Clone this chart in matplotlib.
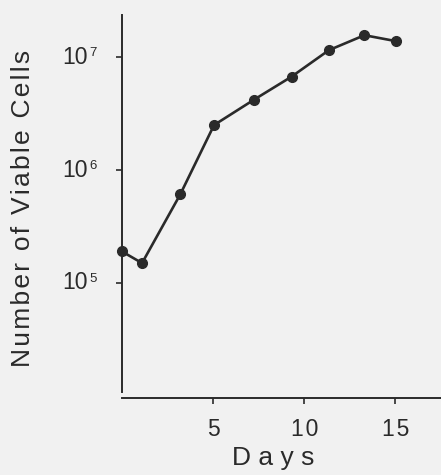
import numpy as np
from matplotlib import pyplot as plt
from matplotlib.ticker import FixedLocator, FixedFormatter, NullLocator, NullFormatter

# Days after seeding and viable cell counts
days = [0.0, 1.1, 3.2, 5.05, 7.25, 9.3, 11.35, 13.3, 15.05]
cells = [1.9e5, 1.5e5, 6.1e5, 2.5e6, 4.2e6, 6.7e6, 1.15e7, 1.56e7, 1.38e7]

x_ticks = [5, 10, 15]
x_tick_labels = ['5', '1\u200a0', '1\u200a5']
y_ticks = [1e5, 1e6, 1e7]
y_exponents = ['5', '6', '7']

bg = '#f1f1f1'
ink = '#2a2a2a'

plt.rcParams['font.family'] = ['Liberation Sans', 'DejaVu Sans']

fig = plt.figure(figsize=(4.41, 4.75), dpi=100, facecolor=bg)
ax = fig.add_axes([122 / 441, 1 - 392 / 475, 1 - 122 / 441, (392 - 15) / 475])
ax.set_facecolor(bg)

ax.plot(days, cells, color=ink, linewidth=1.9, marker='o', markersize=7,
        clip_on=False, zorder=3)

ax.set_yscale('log')
ax.set_xlim(0, 17.5)
ax.set_ylim(10 ** 4.035, 10 ** 7.372)

ax.xaxis.set_major_locator(FixedLocator(x_ticks))
ax.xaxis.set_major_formatter(FixedFormatter(x_tick_labels))
ax.yaxis.set_major_locator(FixedLocator(y_ticks))
ax.yaxis.set_major_formatter(NullFormatter())
ax.yaxis.set_minor_locator(NullLocator())
ax.yaxis.set_minor_formatter(NullFormatter())

for side in ['top', 'right']:
    ax.spines[side].set_visible(False)
for side in ['left', 'bottom']:
    ax.spines[side].set_color(ink)
    ax.spines[side].set_linewidth(1.4)
ax.spines['bottom'].set_position(('outward', 4.3))

ax.tick_params(axis='both', direction='out', length=4.3, width=1.2, colors=ink,
               labelcolor=ink)
ax.tick_params(axis='x', labelsize=16.5, pad=10)

# y tick labels as "10" with a small raised exponent
for val, exp in zip(y_ticks, y_exponents):
    ax.annotate('10', xy=(0, val), xycoords=('axes fraction', 'data'),
                xytext=(-34, 0), textcoords='offset pixels',
                ha='right', va='center', fontsize=16.5, color=ink)
    ax.annotate(exp, xy=(0, val), xycoords=('axes fraction', 'data'),
                xytext=(-33, 1), textcoords='offset pixels',
                ha='left', va='baseline', fontsize=9.5, color=ink)

# axis titles, letter-spaced like the original
fig.text(273 / 441, 1 - 465 / 475, 'D a y s', fontsize=19, color=ink,
         ha='center', va='baseline')
fig.text(23 / 441, 1 - 208 / 475, '\u200a'.join('Number of Viable Cells'),
         fontsize=19, color=ink, rotation=90, ha='center', va='center')

plt.savefig('out.png', dpi=100, facecolor=bg)
